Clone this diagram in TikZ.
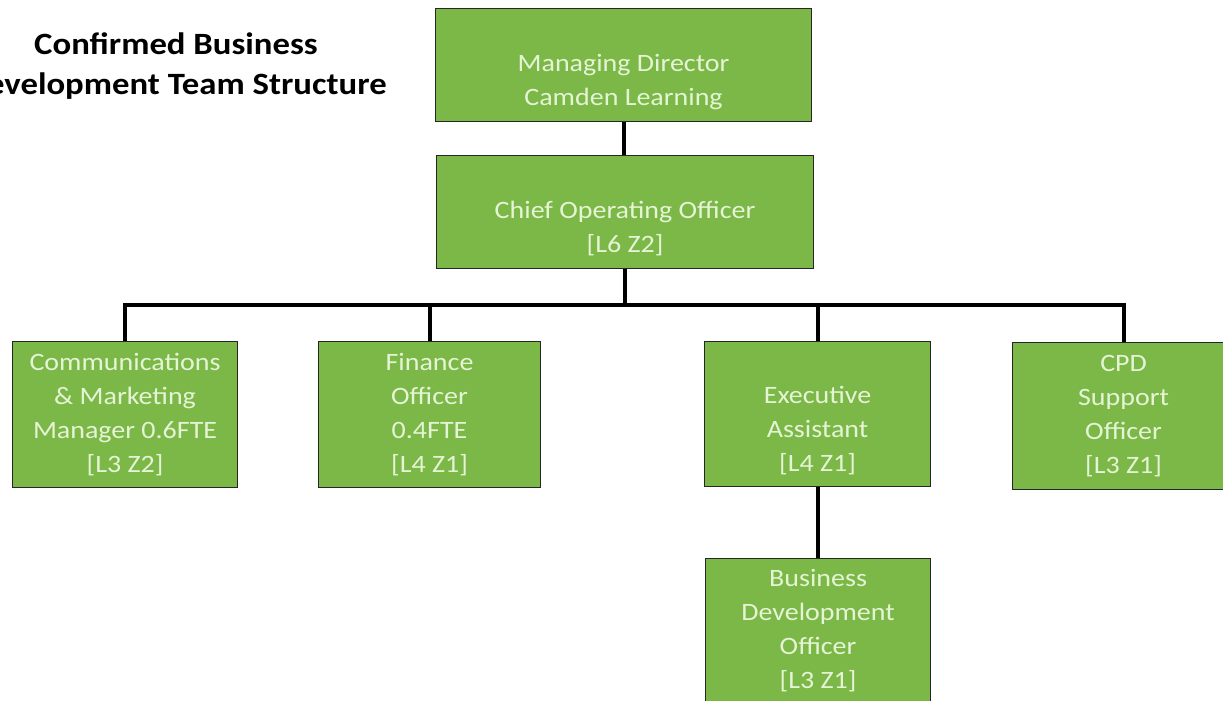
\documentclass[tikz,border=0pt]{standalone}
\usepackage{fontspec}
\setmainfont{Carlito}[FakeStretch=1.12]
\definecolor{boxgreen}{HTML}{7BB847}
\definecolor{boxtext}{HTML}{E6F4D6}
\begin{document}
\begin{tikzpicture}[x=1pt,y=-1pt,
  role/.style={draw=black!85, line width=1.1pt, fill=boxgreen, text=boxtext,
    font=\fontsize{25}{34}\selectfont, align=center, inner sep=0pt, anchor=north west},
  link/.style={line width=4pt, black, line join=miter}]
\useasboundingbox (0,0) rectangle (1223,701);
\clip (0,0) rectangle (1223,701);
\fill[white] (0,0) rectangle (1223,701);

\node[font=\fontsize{31}{40}\selectfont\bfseries, align=center] (title) at (176,66)
  {Confirmed Business\\Development Team Structure};

\node[role, minimum width=376pt, minimum height=113pt] (md) at (435,8)
  {\strut\\\strut Managing Director\\\strut Camden Learning};
\node[role, minimum width=377pt, minimum height=113pt] (coo) at (436,155)
  {\strut\\\strut Chief Operating Officer\\\strut [L6 Z2]};

\node[role, minimum width=225pt, minimum height=146pt] (comm) at (12,341)
  {\strut Communications\\\strut \& Marketing\\\strut Manager 0.6FTE\\\strut [L3 Z2]};
\node[role, minimum width=222pt, minimum height=146pt] (fin) at (318,341)
  {\strut Finance\\\strut Officer\\\strut 0.4FTE\\\strut [L4 Z1]};
\node[role, minimum width=226pt, minimum height=145pt] (exec) at (704,341)
  {\strut\\\strut Executive\\\strut Assistant\\\strut [L4 Z1]};
\node[role, minimum width=222pt, minimum height=147pt] (cpd) at (1012,342)
  {\strut CPD\\\strut Support\\\strut Officer\\\strut [L3 Z1]};
\node[role, minimum width=225pt, minimum height=145pt] (bdo) at (705,558)
  {\strut Business\\\strut Development\\\strut Officer\\\strut [L3 Z1]};

\coordinate (bus) at (625,305);

\draw[link] (md.south) -- (md.south |- coo.north);
\draw[link] (coo.south) -- (coo.south |- bus);
\draw[link] (comm.north) -- (comm.north |- bus) -- (cpd.north |- bus) -- (cpd.north);
\draw[link] (fin.north) -- (fin.north |- bus);
\draw[link] (exec.north) -- (exec.north |- bus);
\draw[link] (exec.south) -- (exec.south |- bdo.north);
\end{tikzpicture}
\end{document}
